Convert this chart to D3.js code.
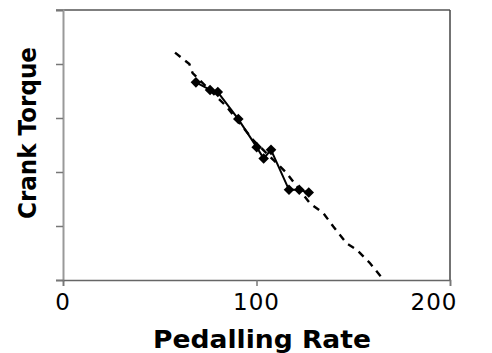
<!DOCTYPE html>
<html><head><meta charset="utf-8">
<script src="https://cdn.jsdelivr.net/npm/d3@7"></script>
<style>body{margin:0;background:#fff}svg{display:block}</style>
</head><body>
<script>
// Measured data (solid line with diamonds)
const measRate   = [68.7, 76.0, 80.0, 90.6, 100.1, 103.7, 107.5, 116.8, 122.1, 127.0];
const measTorque = [36.6, 35.2, 34.8, 29.8, 24.6, 22.5, 24.1, 16.7, 16.7, 16.2];
// Model line (dashed)
const modelRate   = [57.9, 65.3, 67.0, 84.6, 98.3, 115.6, 127.6, 134.5, 139.7, 146.6, 151.8, 158.7, 165.5];
const modelTorque = [42.1, 40.0, 38.3, 32.1, 25.9, 19.8, 14.2, 12.4, 9.9, 6.8, 5.6, 3.1, 0.1];
const xTicks = [0, 100, 200];
const yTicks = [0, 10, 20, 30, 40, 50];

const W = 492, H = 353;
const svg = d3.select("body").append("svg").attr("width", W).attr("height", H);
const x = d3.scaleLinear().domain([0, 200]).range([63, 450]);
const y = d3.scaleLinear().domain([0, 50]).range([280, 10]);

// frame: top and right
svg.append("line").attr("x1", 56).attr("x2", x(200)).attr("y1", y(50)).attr("y2", y(50))
  .attr("stroke", "#555").attr("stroke-width", 1.5);
svg.append("line").attr("x1", x(200)).attr("x2", x(200)).attr("y1", y(50)).attr("y2", y(0))
  .attr("stroke", "#444").attr("stroke-width", 1.5);

// y axis
const ya = svg.append("g").attr("transform", `translate(${x(0)},0)`)
  .call(d3.axisLeft(y).tickValues(yTicks).tickSize(7).tickFormat(""));
ya.select(".domain").attr("stroke", "#999").attr("stroke-width", 2);
ya.selectAll(".tick line").attr("stroke", "#777").attr("stroke-width", 1.5);

// x axis
const xa = svg.append("g").attr("transform", `translate(0,${y(0)})`)
  .call(d3.axisBottom(x).tickValues(xTicks).tickSize(6).tickFormat(""));
xa.select(".domain").attr("stroke", "#666").attr("stroke-width", 1.5);
xa.selectAll(".tick line").attr("stroke", "#777").attr("stroke-width", 1.5);

// x tick labels
const lblX = [x(0), x(100), x(200) - 16];
svg.selectAll(".xl").data(xTicks).enter().append("text")
  .attr("x", (d, i) => lblX[i]).attr("y", 310)
  .attr("text-anchor", "middle")
  .attr("font-family", "DejaVu Sans").attr("font-size", 23)
  .attr("letter-spacing", 1)
  .attr("fill", "#000").text(d => d);

// titles
svg.append("text").attr("x", 262).attr("y", 348).attr("text-anchor", "middle")
  .attr("font-family", "DejaVu Sans").attr("font-weight", "bold").attr("font-size", 24)
  .attr("textLength", 218).attr("lengthAdjust", "spacingAndGlyphs")
  .text("Pedalling Rate");
svg.append("text").attr("transform", "translate(36,133) rotate(-90)").attr("text-anchor", "middle")
  .attr("font-family", "DejaVu Sans").attr("font-weight", "bold").attr("font-size", 24)
  .attr("textLength", 172).attr("lengthAdjust", "spacingAndGlyphs")
  .text("Crank Torque");

// model dashed line
const model = modelRate.map((r, i) => [r, modelTorque[i]]);
svg.append("path").datum(model)
  .attr("d", d3.line().x(d => x(d[0])).y(d => y(d[1])))
  .attr("fill", "none").attr("stroke", "#000").attr("stroke-width", 2.4)
  .attr("stroke-dasharray", "7,6");

// measured line
const meas = measRate.map((r, i) => [r, measTorque[i]]);
svg.append("path").datum(meas)
  .attr("d", d3.line().x(d => x(d[0])).y(d => y(d[1])))
  .attr("fill", "none").attr("stroke", "#000").attr("stroke-width", 2);
svg.selectAll(".pt").data(meas).enter().append("path")
  .attr("transform", d => `translate(${x(d[0])},${y(d[1])}) rotate(45)`)
  .attr("d", d3.symbol().type(d3.symbolSquare).size(56))
  .attr("fill", "#000");
</script>
</body></html>
